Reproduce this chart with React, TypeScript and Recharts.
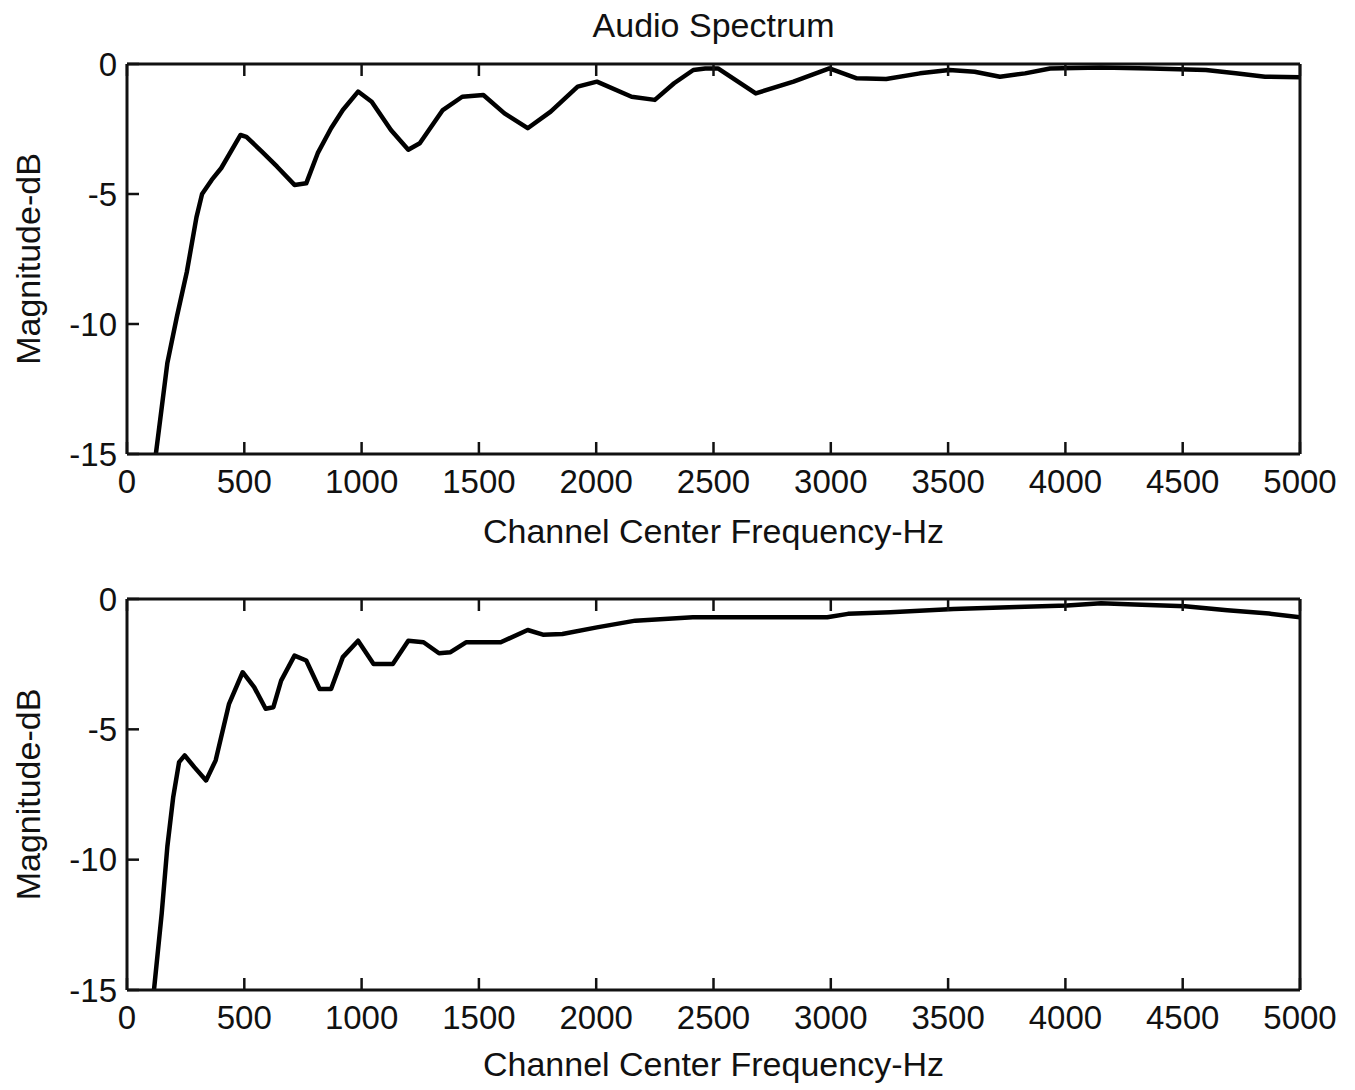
import { LineChart, Line, XAxis, YAxis } from 'recharts';

const xTicks = [0, 500, 1000, 1500, 2000, 2500, 3000, 3500, 4000, 4500, 5000];
const yTicks = [-15, -10, -5, 0];

const TITLE = 'Audio Spectrum';
const X_LABEL = 'Channel Center Frequency-Hz';
const Y_LABEL = 'Magnitude-dB';

// upper panel
const freqTop = [
  123, 172, 213, 255, 296, 320, 361, 402, 484, 509, 575, 640, 714, 764, 813, 870, 920, 985,
  1043, 1125, 1199, 1248, 1346, 1429, 1519, 1609, 1708, 1806, 1921, 2003, 2151, 2250, 2332,
  2414, 2465, 2519, 2680, 2841, 2994, 3111, 3236, 3380, 3505, 3613, 3721, 3828, 3935, 4151,
  4365, 4599, 4726, 4851, 5000,
];
const magTop = [
  -15, -11.5, -9.7, -8.0, -5.9, -5.0, -4.46, -4.0, -2.73, -2.8, -3.37, -3.95, -4.65, -4.59,
  -3.43, -2.47, -1.77, -1.06, -1.45, -2.54, -3.3, -3.05, -1.77, -1.26, -1.19, -1.9, -2.47,
  -1.83, -0.87, -0.68, -1.26, -1.38, -0.74, -0.23, -0.17, -0.17, -1.13, -0.68, -0.17, -0.55,
  -0.58, -0.36, -0.23, -0.3, -0.49, -0.36, -0.17, -0.13, -0.17, -0.23, -0.36, -0.49, -0.51,
];

// lower panel
const freqBottom = [
  115, 148, 172, 197, 222, 246, 287, 337, 378, 435, 493, 542, 591, 624, 657, 714, 764, 821,
  870, 920, 985, 1051, 1133, 1199, 1264, 1330, 1379, 1445, 1593, 1708, 1773, 1856, 2003, 2167,
  2412, 2985, 3073, 3254, 3523, 3792, 4007, 4152, 4295, 4510, 4690, 4868, 5000,
];
const magBottom = [
  -15, -12.06, -9.5, -7.6, -6.26, -6.0, -6.45, -6.96, -6.19, -4.02, -2.81, -3.38, -4.21, -4.15,
  -3.13, -2.17, -2.36, -3.45, -3.45, -2.23, -1.6, -2.49, -2.49, -1.6, -1.66, -2.08, -2.04,
  -1.66, -1.66, -1.19, -1.37, -1.34, -1.09, -0.83, -0.7, -0.7, -0.57, -0.51, -0.38, -0.31,
  -0.25, -0.16, -0.21, -0.28, -0.43, -0.56, -0.7,
];

const FONT = '"Liberation Sans", Arial, sans-serif';
const INK = '#111';
const tickFont = { fontSize: 33, fill: INK, fontFamily: FONT };
const frame = { stroke: INK, strokeWidth: 3 };
const tickStroke = { stroke: INK, strokeWidth: 2.5 };

const zip = (f: number[], m: number[]) => f.map((hz, i) => ({ hz, db: m[i] }));

interface PanelProps {
  data: { hz: number; db: number }[];
  top: number;
  height: number;
  marginTop: number;
  xAxisHeight: number;
  xLabelOffset: number;
  title?: string;
}

function Panel({ data, top, height, marginTop, xAxisHeight, xLabelOffset, title }: PanelProps) {
  return (
    <div style={{ position: 'absolute', left: 0, top }}>
      <LineChart width={1355} height={height} data={data}
        margin={{ top: marginTop - 1, right: 54, bottom: 0, left: 0 }}>
        <XAxis xAxisId="b" dataKey="hz" type="number" domain={[0, 5000]} ticks={xTicks}
          allowDataOverflow height={xAxisHeight} tick={tickFont}
          axisLine={frame} tickLine={tickStroke}
          tickSize={-12} tickMargin={28}
          label={{ value: X_LABEL, position: 'insideBottom', offset: xLabelOffset, fontSize: 34, fill: INK, fontFamily: FONT }} />
        <XAxis xAxisId="t" orientation="top" dataKey="hz" type="number" domain={[0, 5000]}
          ticks={xTicks} height={1} tickFormatter={() => ''}
          axisLine={frame} tickLine={tickStroke}
          tickSize={-12}
          label={title ? { value: title, position: 'top', offset: 26, fontSize: 34, fill: INK, fontFamily: FONT } : undefined} />
        <YAxis yAxisId="l" type="number" domain={[-15, 0]} ticks={yTicks} allowDataOverflow
          width={127} tick={tickFont}
          axisLine={frame} tickLine={tickStroke}
          tickSize={-12} tickMargin={22}
          label={(p: any) => {
            const vb = p.viewBox || {};
            const cx = 28;
            const cy = (vb.y ?? 0) + (vb.height ?? 0) / 2;
            return (
              <text x={cx} y={cy} transform={`rotate(-90, ${cx}, ${cy})`} textAnchor="middle"
                dominantBaseline="central" fontSize={34} fill={INK} fontFamily={FONT}>
                {Y_LABEL}
              </text>
            );
          }} />
        <YAxis yAxisId="r" orientation="right" type="number" domain={[-15, 0]} ticks={yTicks}
          width={1} tickFormatter={() => ''}
          axisLine={frame} tickLine={tickStroke}
          tickSize={-12} />
        <Line xAxisId="b" yAxisId="l" type="linear" dataKey="db" stroke="#000" strokeWidth={4.5}
          dot={false} isAnimationActive={false} strokeLinejoin="round" />
      </LineChart>
    </div>
  );
}

export default function App() {
  return (
    <div style={{ position: 'absolute', left: 0, top: 0, width: 1355, height: 1090, background: '#fff' }}>
      <Panel data={zip(freqTop, magTop)} top={0} height={565} marginTop={64} xAxisHeight={111}
        xLabelOffset={22} title={TITLE} />
      <Panel data={zip(freqBottom, magBottom)} top={565} height={525} marginTop={34} xAxisHeight={100}
        xLabelOffset={14} />
    </div>
  );
}
